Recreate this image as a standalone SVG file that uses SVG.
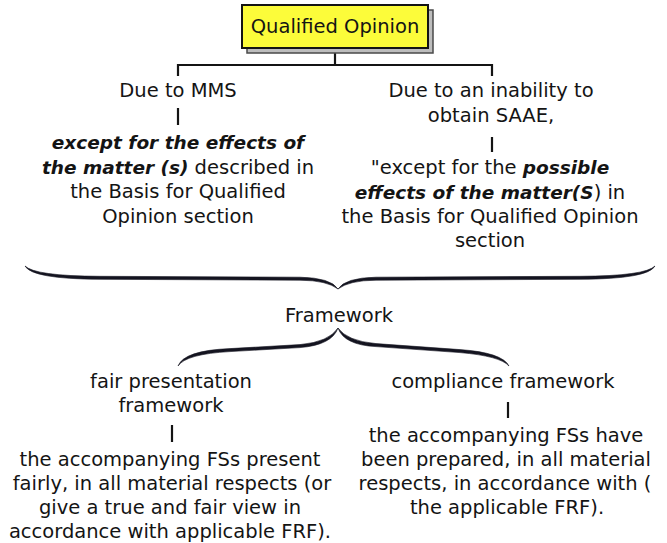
<svg xmlns="http://www.w3.org/2000/svg" width="667" height="543" viewBox="0 0 667 543">
<style>
  text { font-family: "DejaVu Sans", "Noto Sans", sans-serif; font-size: 19.5px; fill: #141414; text-anchor: middle; }
  .b { font-weight: bold; font-style: italic; font-size: 18.5px; }
  .ln { stroke: #141414; stroke-width: 2.2; fill: none; }
  .br { fill: #141420; stroke: #141420; stroke-width: 0.6; stroke-linejoin: round; }
</style>
<rect width="667" height="543" fill="#ffffff"/>

<g id="connectors">
  <line class="ln" x1="335" y1="48" x2="335" y2="65"/>
  <polyline class="ln" points="178,76 178,65 492,65 492,76"/>
  <line class="ln" x1="178" y1="108" x2="178" y2="125"/>
  <line class="ln" x1="492" y1="137" x2="492" y2="152"/>
  <line class="ln" x1="172" y1="425" x2="172" y2="442"/>
  <line class="ln" x1="508" y1="402" x2="508" y2="418"/>
  <!-- upper brace -->
  <path class="br" d="M25,266 Q35,276 100,276.3 L300,277.2 Q331,277.8 338,289 Q327,280.4 300,280.2 L100,279.3 Q32,279 25,266 Z"/>
  <path class="br" d="M655,266 Q645,276 580,276.3 L376,277.2 Q345,277.8 338,289 Q349,280.4 376,280.2 L580,279.3 Q648,279 655,266 Z"/>
  <!-- lower brace -->
  <path class="br" d="M178,366 Q184,350.5 230,348.6 L300,344.6 Q329,342 338,328 Q332,345 300,347.6 L230,351.6 Q186,354 178,366 Z"/>
  <path class="br" d="M509,366 Q502,352.5 460,349.6 L376,343.6 Q347,341 338,328 Q344,345 376,346.6 L460,352.6 Q500,356 509,366 Z"/>
</g>

<g id="node-qualified-opinion">
  <rect x="247" y="10" width="186" height="43" fill="#bdbdbd" stroke="#4a4a4a" stroke-width="1.5"/>
  <rect x="242" y="5" width="186" height="43" fill="#fcfc3a" stroke="#141414" stroke-width="2"/>
  <text x="335" y="33">Qualified Opinion</text>
</g>

<g id="node-due-to-mms">
  <text x="178" y="97">Due to MMS</text>
</g>

<g id="node-mms-opinion">
  <text x="178" y="149" class="b">except for the effects of</text>
  <text x="178" y="174"><tspan class="b">the matter (s)</tspan> described in</text>
  <text x="178" y="198">the Basis for Qualified</text>
  <text x="178" y="223">Opinion section</text>
</g>

<g id="node-due-to-saae">
  <text x="491" y="97">Due to an inability to</text>
  <text x="491" y="122">obtain SAAE,</text>
</g>

<g id="node-saae-opinion">
  <text x="490" y="174">"except for the <tspan class="b">possible</tspan></text>
  <text x="490" y="199"><tspan class="b">effects of the matter(S</tspan>) in</text>
  <text x="490" y="223">the Basis for Qualified Opinion</text>
  <text x="490" y="247">section</text>
</g>

<g id="node-framework">
  <text x="339" y="322">Framework</text>
</g>

<g id="node-fair-presentation">
  <text x="171" y="388">fair presentation</text>
  <text x="171" y="412">framework</text>
</g>

<g id="node-fair-opinion">
  <text x="170" y="466">the accompanying FSs present</text>
  <text x="172" y="490">fairly, in all material respects (or</text>
  <text x="170" y="514">give a true and fair view in</text>
  <text x="170" y="538">accordance with applicable FRF).</text>
</g>

<g id="node-compliance">
  <text x="503" y="388">compliance framework</text>
</g>

<g id="node-compliance-opinion">
  <text x="506" y="442">the accompanying FSs have</text>
  <text x="506" y="466">been prepared, in all material</text>
  <text x="505" y="490">respects, in accordance with (</text>
  <text x="507" y="514">the applicable FRF).</text>
</g>
</svg>
